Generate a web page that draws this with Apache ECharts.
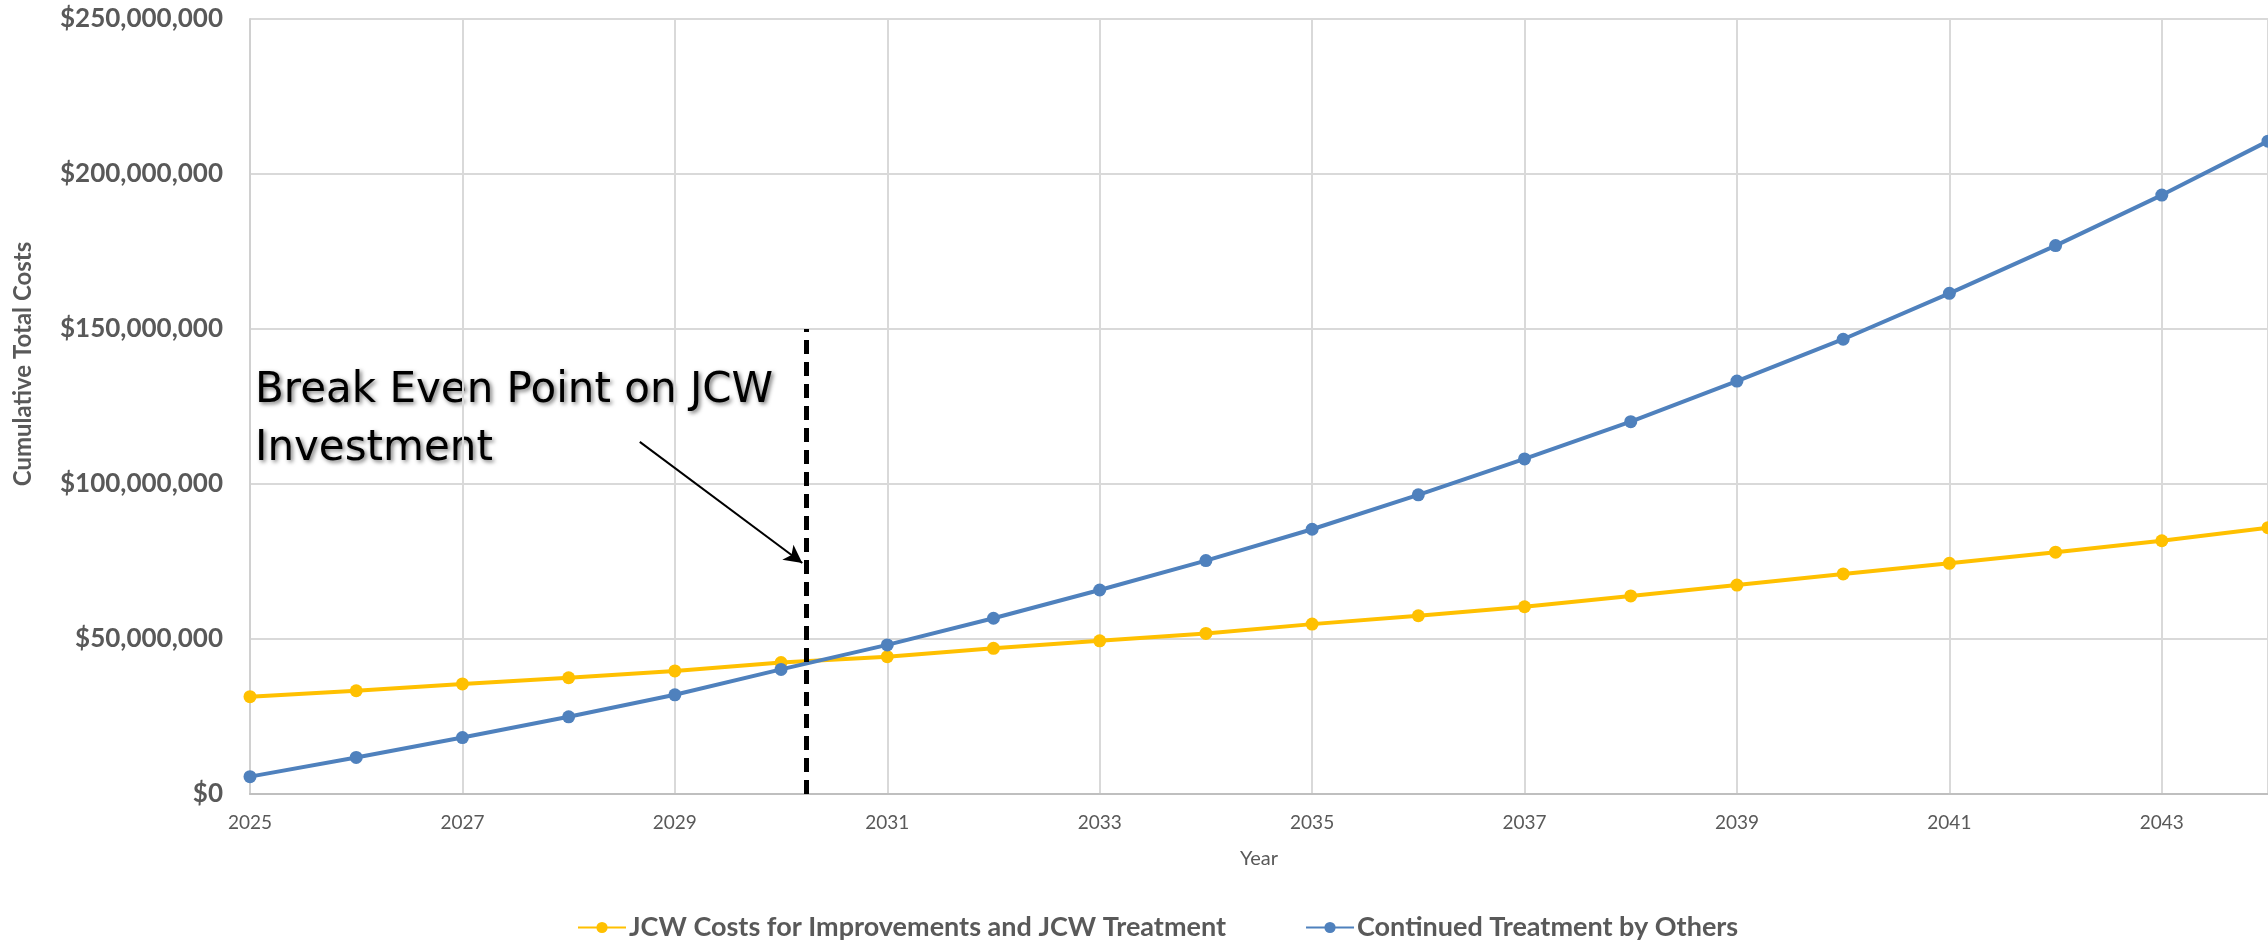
<!DOCTYPE html>
<html>
<head>
<meta charset="utf-8">
<script src="https://cdn.jsdelivr.net/npm/echarts@6/dist/echarts.min.js"></script>
<style>
  html, body { margin: 0; padding: 0; background: #fff; }
  #chart { width: 2268px; height: 944px; }
</style>
</head>
<body>
<div id="chart"></div>
<script>
// ---- data ----
const years = [2025, 2026, 2027, 2028, 2029, 2030, 2031, 2032, 2033, 2034,
               2035, 2036, 2037, 2038, 2039, 2040, 2041, 2042, 2043, 2044];
const jcwCosts = [31400000, 33300000, 35500000, 37500000, 39700000, 42400000, 44300000, 47000000, 49400000, 51800000,
                  54800000, 57500000, 60400000, 63900000, 67400000, 71000000, 74400000, 78000000, 81700000, 85900000];
const othersCosts = [5600000, 11800000, 18200000, 24900000, 32000000, 40200000, 48100000, 56700000, 65800000, 75300000,
                     85400000, 96500000, 108100000, 120100000, 133200000, 146700000, 161500000, 176900000, 193200000, 210600000];
const seriesNames = ['JCW Costs for Improvements and JCW Treatment', 'Continued Treatment by Others'];
const yTicks = [0, 50000000, 100000000, 150000000, 200000000, 250000000];
const breakEvenYear = 2030.24;
const breakEvenLineTop = 150000000;
const arrowStart = [2028.67, 113600000];
const arrowEnd = [2030.2, 74500000];
const annotationLines = ['Break Even Point on JCW', 'Investment'];

// ---- chart ----
const baseYear = years[0];
const toX = y => y - baseYear;
const fmtMoney = v => '$' + Math.round(v).toString().replace(/\B(?=(\d{3})+(?!\d))/g, ',');
const gray = '#595959';
const font = 'Lato';

const chart = echarts.init(document.getElementById('chart'), null, { renderer: 'canvas' });

const annoStyle = {
  fill: '#000', font: '42px "DejaVu Sans"', textVerticalAlign: 'middle',
  textShadowColor: 'rgba(0,0,0,0.55)', textShadowBlur: 4, textShadowOffsetX: 2, textShadowOffsetY: 2
};

const option = {
  backgroundColor: '#ffffff',
  animation: false,
  grid: { left: 250, right: 0, top: 19, bottom: 150, containLabel: false },
  legend: {
    data: seriesNames,
    left: 572,
    top: 909,
    itemWidth: 48,
    itemHeight: 14,
    itemGap: 79,
    textStyle: { color: gray, fontSize: 27, fontWeight: 'bold', fontFamily: font, padding: [0, 0, 0, -2] }
  },
  xAxis: {
    type: 'value',
    min: 0,
    max: years.length - 1,
    interval: 2,
    name: 'Year',
    nameLocation: 'middle',
    nameGap: 55,
    nameTextStyle: { color: gray, fontSize: 20, fontFamily: font },
    axisLine: { show: true, lineStyle: { color: '#BFBFBF', width: 2 } },
    axisTick: { show: false },
    axisLabel: {
      color: gray, fontSize: 19, fontFamily: font, margin: 19,
      showMaxLabel: false,
      formatter: v => String(baseYear + v)
    },
    splitLine: { show: true, lineStyle: { color: '#D9D9D9', width: 2 } }
  },
  yAxis: {
    type: 'value',
    min: yTicks[0],
    max: yTicks[yTicks.length - 1],
    interval: yTicks[1] - yTicks[0],
    axisLine: { show: true, lineStyle: { color: '#D0D0D0', width: 2 } },
    axisTick: { show: false },
    axisLabel: { color: gray, fontSize: 26, fontWeight: 'bold', fontFamily: font, margin: 27, formatter: fmtMoney },
    splitLine: { show: true, lineStyle: { color: '#D9D9D9', width: 2 } }
  },
  graphic: [
    {
      type: 'text', rotation: Math.PI / 2, x: 23, y: 364,
      style: { text: 'Cumulative Total Costs', fill: gray, font: 'bold 24px Lato', textAlign: 'center', textVerticalAlign: 'middle' }
    },
    { type: 'text', x: 255, y: 391, style: Object.assign({ text: annotationLines[0] }, annoStyle) },
    { type: 'text', x: 255, y: 449, style: Object.assign({ text: annotationLines[1] }, annoStyle) }
  ],
  series: [
    {
      name: seriesNames[0],
      type: 'line',
      data: years.map((y, i) => [toX(y), jcwCosts[i]]),
      symbol: 'circle',
      symbolSize: 13,
      itemStyle: { color: '#FFC000' },
      lineStyle: { color: '#FFC000', width: 4 },
      z: 2,
      markLine: {
        silent: true,
        animation: false,
        symbol: ['none', 'arrow'],
        symbolSize: [14, 18],
        label: { show: false },
        lineStyle: { color: '#000', width: 2, type: 'solid' },
        data: [[
          { coord: [toX(arrowStart[0]), arrowStart[1]] },
          { coord: [toX(arrowEnd[0]), arrowEnd[1]] }
        ]]
      }
    },
    {
      name: seriesNames[1],
      type: 'line',
      data: years.map((y, i) => [toX(y), othersCosts[i]]),
      symbol: 'circle',
      symbolSize: 13,
      itemStyle: { color: '#4F81BD' },
      lineStyle: { color: '#4F81BD', width: 4 },
      z: 3,
      markLine: {
        silent: true,
        animation: false,
        symbol: ['none', 'none'],
        label: { show: false },
        lineStyle: { color: '#000', width: 5, type: [14, 8] },
        data: [[
          { coord: [toX(breakEvenYear), 0] },
          { coord: [toX(breakEvenYear), breakEvenLineTop] }
        ]]
      }
    }
  ]
};

chart.setOption(option);
</script>
</body>
</html>
